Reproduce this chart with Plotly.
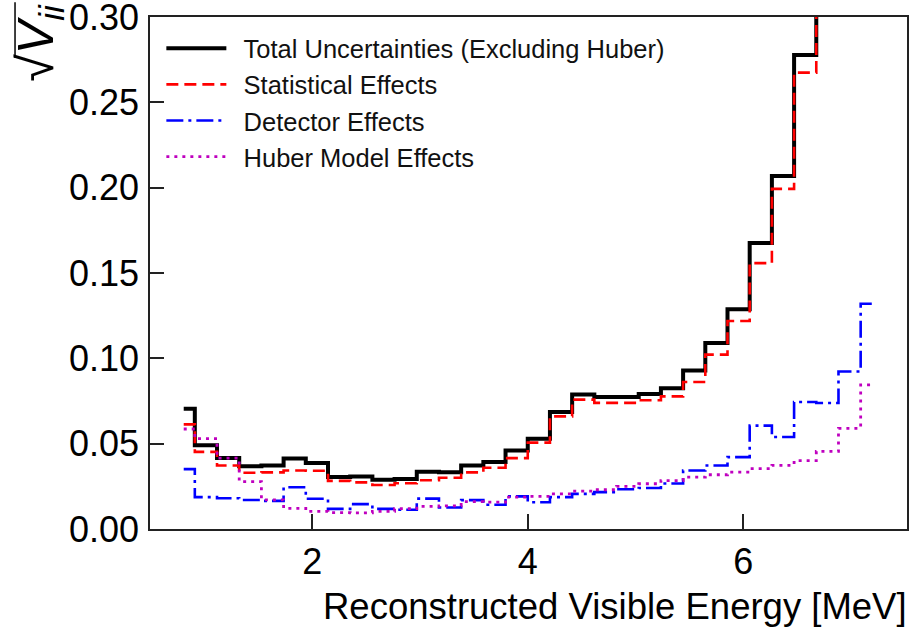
import plotly.graph_objects as go

# bin centres [MeV]
energy = [0.807, 1.013, 1.219, 1.425, 1.631, 1.837, 2.043, 2.249, 2.455, 2.661,
          2.867, 3.073, 3.279, 3.485, 3.691, 3.897, 4.103, 4.309, 4.515, 4.721,
          4.927, 5.133, 5.339, 5.545, 5.751, 5.957, 6.163, 6.369, 6.575, 6.781,
          6.987, 7.193]

total = [0.0705, 0.049, 0.0416, 0.0367, 0.0372, 0.0413, 0.0386, 0.0304, 0.0308, 0.0289,
         0.0293, 0.0335, 0.0333, 0.0372, 0.0392, 0.046, 0.0529, 0.0685, 0.0788, 0.0773,
         0.0773, 0.0791, 0.0824, 0.0928, 0.109, 0.1287, 0.1676, 0.2068, 0.2778, 0.40,
         0.55, 0.80]

statistical = [0.0613, 0.0452, 0.0372, 0.033, 0.0332, 0.0343, 0.0341, 0.0282, 0.0273, 0.0258,
               0.0268, 0.0286, 0.030, 0.0332, 0.0359, 0.0415, 0.0506, 0.066, 0.0758, 0.0739,
               0.0739, 0.0754, 0.0777, 0.0861, 0.1022, 0.1219, 0.1558, 0.1993, 0.2674, 0.39,
               0.54, 0.79]

detector = [0.0351, 0.0187, 0.018, 0.017, 0.0165, 0.0245, 0.0177, 0.0118, 0.0146, 0.0118,
            0.0113, 0.0178, 0.0126, 0.0169, 0.0142, 0.0191, 0.0157, 0.0187, 0.0206, 0.0216,
            0.0233, 0.0240, 0.0267, 0.0343, 0.0372, 0.0421, 0.0606, 0.0539, 0.0744, 0.0738,
            0.0923, 0.132]

huber = [0.0586, 0.0529, 0.0415, 0.0278, 0.0171, 0.0121, 0.0103, 0.0096, 0.0095, 0.0103,
         0.0119, 0.0132, 0.0136, 0.016, 0.0157, 0.0187, 0.0191, 0.0206, 0.0222, 0.023,
         0.025, 0.0265, 0.0284, 0.0304, 0.0318, 0.0333, 0.0354, 0.0373, 0.0401, 0.0455,
         0.059, 0.0844]

names = ["Total Uncertainties (Excluding Huber)", "Statistical Effects",
         "Detector Effects", "Huber Model Effects"]

x_ticks = [2, 4, 6]
y_ticks = [0.0, 0.05, 0.10, 0.15, 0.20, 0.25, 0.30]

FONT = "Liberation Sans, Arial, Helvetica, sans-serif"

fig = go.Figure()
styles = [
    (total, "black", 4, "solid"),
    (statistical, "#ff0000", 2.6, "12px,6px"),
    (detector, "#0000ff", 2.6, "17px,5px,3px,5px"),
    (huber, "#bf00bf", 2.8, "3px,5px"),
]
for i, (vals, col, w, dash) in enumerate(styles):
    fig.add_trace(go.Scatter(
        x=energy, y=vals, mode="lines", name="\u00a0\u2009" + names[i],
        line=dict(color=col, width=w, dash=dash, shape="hvh"),
        legendgroup=f"g{i}",
    ))

fig.update_layout(
    width=909, height=635,
    margin=dict(l=150, r=2, t=17, b=106, autoexpand=False),
    paper_bgcolor="white", plot_bgcolor="white",
    font=dict(family=FONT, color="black"),
    showlegend=True,
    legend=dict(x=0.015, y=0.984, xanchor="left", yanchor="top",
                bgcolor="rgba(0,0,0,0)", borderwidth=0,
                font=dict(size=25.5, family=FONT, color="#111"),
                itemwidth=60, tracegroupgap=0),
)
fig.update_xaxes(range=[0.494, 7.52], tickvals=x_ticks, ticks="inside", ticklen=15,
                 tickwidth=1.5, tickcolor="#222", showline=True, linecolor="#222",
                 linewidth=1.5, mirror=True, showgrid=False, zeroline=False,
                 automargin=False,
                 tickfont=dict(size=36, family=FONT, color="black"))
fig.update_yaxes(range=[0, 0.30], tickvals=y_ticks, tickformat=".2f", ticks="inside",
                 ticklen=14, tickwidth=1.5, tickcolor="#222", showline=True,
                 linecolor="#222", linewidth=1.5, mirror=True, showgrid=False,
                 zeroline=False, ticklabelstandoff=2, ticklabeloverflow="allow",
                 automargin=False,
                 tickfont=dict(size=36, family=FONT, color="black"))

fig.add_annotation(text="Reconstructed Visible Energy [MeV]", xref="paper", yref="paper",
                   x=1.003, y=-0.152, xanchor="right", yanchor="middle", showarrow=False,
                   font=dict(size=36.5, family=FONT, color="black"))
fig.add_annotation(text="√<i>V</i><sub><i>ii</i></sub>", xref="paper", yref="paper",
                   x=-0.1453, y=1.03, xanchor="center", yanchor="top", textangle=-90,
                   showarrow=False, font=dict(size=50, family=FONT, color="black"))
# overline of the square root
fig.add_shape(type="line", xref="paper", yref="paper",
              x0=-0.1783, x1=-0.1783, y0=0.92, y1=1.029,
              line=dict(color="black", width=1.5))

fig.write_html("out.html", config={"displayModeBar": False},
               post_script="document.body.style.margin='0';")
